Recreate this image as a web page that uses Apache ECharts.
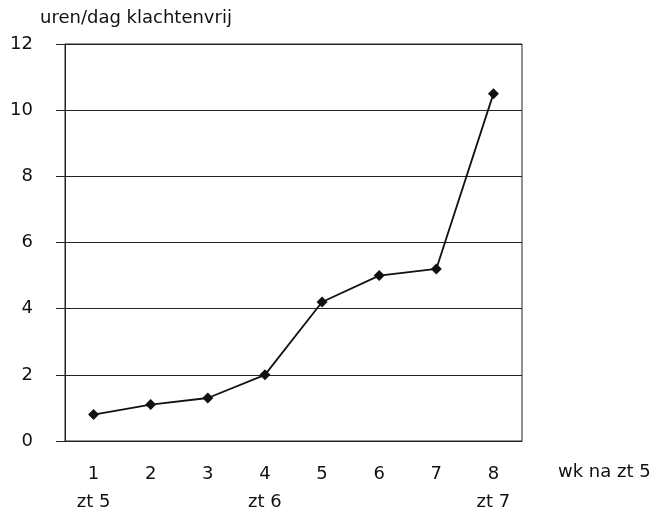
<!DOCTYPE html>
<html lang="nl" style="height: 100%">
<head>
  <meta charset="UTF-8" />
  <title>uren/dag klachtenvrij</title>
  <script src="https://cdn.jsdelivr.net/npm/echarts@6/dist/echarts.min.js"></script>
</head>
<body style="height: 100%; margin: 0; background: #fff">
  <div id="main" style="width: 655px; height: 511px"></div>
  <script type="text/javascript">
    // weken na zt 5
    var weken = ['1', '2', '3', '4', '5', '6', '7', '8'];
    // tweede regel onder de as
    var zittingen = ['zt 5', '', '', 'zt 6', '', '', '', 'zt 7'];
    var urenKlachtenvrij = [0.8, 1.1, 1.3, 2.0, 4.2, 5.0, 5.2, 10.5];
    var yTicks = [0, 2, 4, 6, 8, 10, 12];

    var myChart = echarts.init(document.getElementById('main'));
    var font = '"DejaVu Sans", Arial, sans-serif';

    var option = {
      animation: false,
      backgroundColor: '#fff',
      textStyle: { fontFamily: font },
      grid: {
        left: 65, right: 133, top: 44, bottom: 70,
        outerBoundsMode: 'none',
        show: true, borderColor: '#222', borderWidth: 1
      },
      graphic: [{
        type: 'text', x: 558, y: 472,
        style: {
          text: 'wk na zt 5', font: '18px ' + font, fill: '#111',
          align: 'left', verticalAlign: 'middle'
        }
      }],
      xAxis: {
        type: 'category',
        data: weken,
        boundaryGap: true,
        axisLine: { lineStyle: { color: '#222', width: 1 } },
        axisTick: { length: 8, lineStyle: { color: '#222' } },
        axisLabel: {
          margin: 19, color: '#111', fontSize: 18, lineHeight: 28,
          formatter: function (v, i) { return v + '\n' + (zittingen[i] || ' '); }
        }
      },
      yAxis: {
        type: 'value',
        min: yTicks[0], max: yTicks[yTicks.length - 1], interval: 2,
        name: 'uren/dag klachtenvrij',
        nameLocation: 'end',
        nameGap: 26,
        nameTextStyle: {
          color: '#111', fontSize: 18, align: 'left', verticalAlign: 'middle',
          padding: [0, 0, 0, -25]
        },
        axisLine: { show: true, lineStyle: { color: '#222', width: 1 } },
        axisTick: { show: true, length: 9, lineStyle: { color: '#222' } },
        axisLabel: { margin: 32, color: '#111', fontSize: 18 },
        splitLine: { lineStyle: { color: '#222', width: 1 } }
      },
      series: [{
        type: 'line',
        data: urenKlachtenvrij,
        symbol: 'diamond',
        symbolSize: 11,
        itemStyle: { color: '#111' },
        lineStyle: { color: '#111', width: 1.8 }
      }]
    };
    myChart.setOption(option);
  </script>
</body>
</html>
